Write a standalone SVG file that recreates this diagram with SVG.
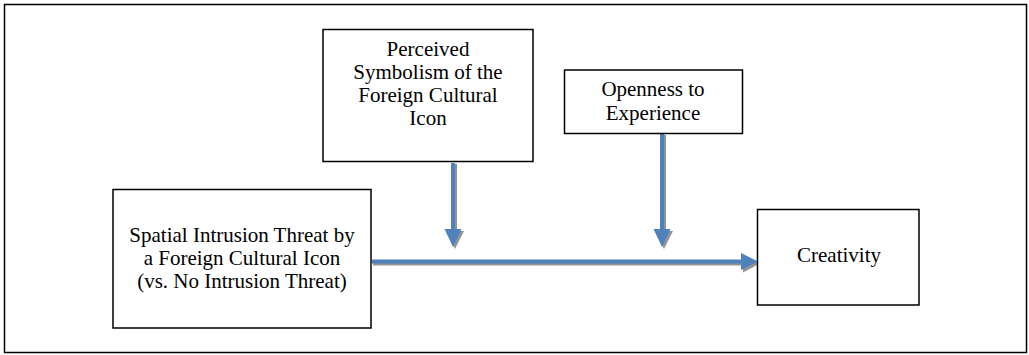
<svg xmlns="http://www.w3.org/2000/svg" width="1029" height="355" viewBox="0 0 1029 355">
<defs>
<style>
.box{fill:#fff;stroke:#000;stroke-width:1.5}
.t{font-family:"Liberation Serif","Times New Roman",serif;font-size:21px;fill:#000;text-anchor:middle}
.shaft{stroke:#4F81BD;stroke-width:4;fill:none}
.shadow{stroke:#808080;stroke-width:4;fill:none;opacity:0.85}
.head{fill:#4F81BD}
.headsh{fill:#808080;opacity:0.85}
</style>
</defs>
<rect x="0" y="0" width="1029" height="355" fill="#fff"/>
<rect x="4.5" y="4.5" width="1022" height="348" fill="none" stroke="#000" stroke-width="1.5"/>
<g id="connectors">
<g id="c1">
<path class="shadow" d="M455 164 V233"/>
<path class="headsh" d="M446 231 L464 231 L455 249 Z"/>
<path class="shaft" d="M453 163 V232"/>
<path class="head" d="M444.5 229 L461.5 229 L453 247 Z"/>
</g>
<g id="c2">
<path class="shadow" d="M664 135 V233"/>
<path class="headsh" d="M655 231 L673 231 L664 249 Z"/>
<path class="shaft" d="M662 134 V232"/>
<path class="head" d="M653.5 229 L670.5 229 L662 247 Z"/>
</g>
<g id="c3">
<path class="shadow" d="M373 263.5 H746"/>
<path class="headsh" d="M743 254.5 L743 272.5 L760 263.5 Z"/>
<path class="shaft" d="M372 261.5 H745"/>
<path class="head" d="M741 253 L741 270 L758 261.5 Z"/>
</g>
</g>
<g id="n1">
<rect class="box" x="323" y="29.5" width="210" height="132"/>
<text class="t" x="428" y="56">Perceived</text>
<text class="t" x="428" y="79">Symbolism of the</text>
<text class="t" x="428" y="102">Foreign Cultural</text>
<text class="t" x="428" y="125">Icon</text>
</g>
<g id="n2">
<rect class="box" x="564.5" y="70" width="178" height="63.5"/>
<text class="t" x="653" y="96">Openness to</text>
<text class="t" x="653" y="120">Experience</text>
</g>
<g id="n3">
<rect class="box" x="113" y="189.5" width="258" height="138.5"/>
<text class="t" x="242" y="242">Spatial Intrusion Threat by</text>
<text class="t" x="242" y="265">a Foreign Cultural Icon</text>
<text class="t" x="242" y="288">(vs. No Intrusion Threat)</text>
</g>
<g id="n4">
<rect class="box" x="757.5" y="209.5" width="161.5" height="95.5"/>
<text class="t" x="839" y="262">Creativity</text>
</g>
</svg>
